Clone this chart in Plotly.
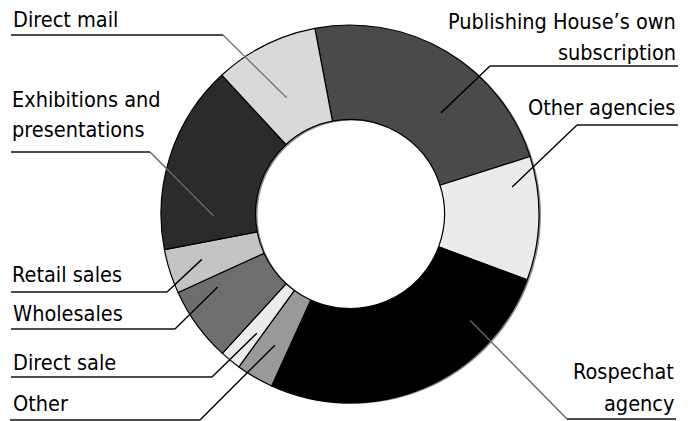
import math
import plotly.graph_objects as go

# ---- data ----
categories = ["Publishing House's own subscription", "Other agencies", "Rospechat agency",
              "Other", "Direct sale", "Wholesales", "Retail sales",
              "Exhibitions and presentations", "Direct mail"]
shares = [23.1, 10.6, 26.2, 3.2, 1.8, 6.4, 3.8, 16.2, 8.9]
slice_colors = ["#4a4a4a", "#ebebeb", "#000000", "#999999", "#ebebeb",
                "#6e6e6e", "#c4c4c4", "#2b2b2b", "#d9d9d9"]

# ---- layout constants (pixels) ----
W, H = 692, 421
CX, CY, R = 350, 214, 189
HOLE = 0.5
ROTATION = -10.7  # start angle (deg, clockwise from 12 o'clock)
SHADOW_DX, SHADOW_DY = 2, 1

def px(x):
    return x / W

def py(y):
    return 1 - y / H

fig = go.Figure()
# soft grey shadow ring behind the donut
fig.add_trace(go.Pie(
    labels=["shadow"], values=[1], sort=False, hole=HOLE, textinfo="none", hoverinfo="skip",
    marker=dict(colors=["#8c8c84"], line=dict(width=0)),
    domain=dict(x=[px(CX - R + SHADOW_DX), px(CX + R + SHADOW_DX)],
                y=[py(CY + R + SHADOW_DY), py(CY - R + SHADOW_DY)]),
    showlegend=False,
))
fig.add_trace(go.Pie(
    labels=categories, values=shares, sort=False, direction="clockwise",
    rotation=ROTATION, hole=HOLE, textinfo="none", hoverinfo="label+percent",
    marker=dict(colors=slice_colors, line=dict(color="#000000", width=1.2)),
    domain=dict(x=[px(CX - R), px(CX + R)], y=[py(CY + R), py(CY - R)]),
    showlegend=False,
))

FONT = dict(family="DejaVu Sans Condensed, DejaVu Sans, sans-serif", size=21.5, color="#000000")
labels_layout = {
    "Publishing House's own subscription": dict(lines=[("Publishing House’s own", 678, 21.5), ("subscription", 678, 53)],
        anchor="right", elbow=(490, 66), uend=678, frac=0.635, rf=0.72, lc="#000000"),
    "Other agencies": dict(lines=[("Other agencies", 677, 108)], anchor="right",
        elbow=(577, 125), uend=678, frac=0.216, rf=0.87, lc="#000000"),
    "Rospechat agency": dict(lines=[("Rospechat", 676, 371.5), ("agency", 676, 403)], anchor="right",
        elbow=(567, 419), uend=676, frac=0.225, rf=0.85, lc="#666666"),
    "Other": dict(lines=[("Other", 11, 403.5)], anchor="left",
        elbow=(200, 420), uend=10, frac=0.46, rf=0.80, lc="#000000"),
    "Direct sale": dict(lines=[("Direct sale", 11, 362)], anchor="left",
        elbow=(212, 377), uend=11, frac=0.31, rf=0.80, lc="#000000"),
    "Wholesales": dict(lines=[("Wholesales", 11, 313.5)], anchor="left",
        elbow=(175, 329), uend=11, frac=0.81, rf=0.80, lc="#000000"),
    "Retail sales": dict(lines=[("Retail sales", 10, 274)], anchor="left",
        elbow=(167, 292), uend=11, frac=0.55, rf=0.82, lc="#000000"),
    "Exhibitions and presentations": dict(lines=[("Exhibitions and", 10, 99.3), ("presentations", 10, 130)], anchor="left",
        elbow=(150, 152), uend=11, frac=0.17, rf=0.72, lc="#666666"),
    "Direct mail": dict(lines=[("Direct mail", 11, 19.5)], anchor="left",
        elbow=(223, 35), uend=11, frac=0.44, rf=0.70, lc="#777777"),
}

total = sum(shares)
angle = ROTATION
shapes, annotations = [], []
for cat, val in zip(categories, shares):
    span = 360.0 * val / total
    spec = labels_layout[cat]
    a = math.radians(angle + spec["frac"] * span)
    ax = CX + spec["rf"] * R * math.sin(a)
    ay = CY - spec["rf"] * R * math.cos(a)
    ex, ey = spec["elbow"]
    shapes.append(dict(type="line", xref="paper", yref="paper", x0=px(ex), y0=py(ey), x1=px(ax), y1=py(ay),
                       line=dict(color=spec["lc"], width=1.4)))
    shapes.append(dict(type="line", xref="paper", yref="paper", x0=px(spec["uend"]), y0=py(ey), x1=px(ex), y1=py(ey),
                       line=dict(color="#111111", width=1.6)))
    for text, tx, ty in spec["lines"]:
        annotations.append(dict(text=text, x=px(tx), y=py(ty), xref="paper", yref="paper",
                                xanchor=spec["anchor"], yanchor="middle", showarrow=False, font=FONT))
    angle += span

fig.update_layout(width=W, height=H, margin=dict(l=0, r=0, t=0, b=0),
                  paper_bgcolor="white", plot_bgcolor="white",
                  shapes=shapes, annotations=annotations)
fig.write_html("out.html")
